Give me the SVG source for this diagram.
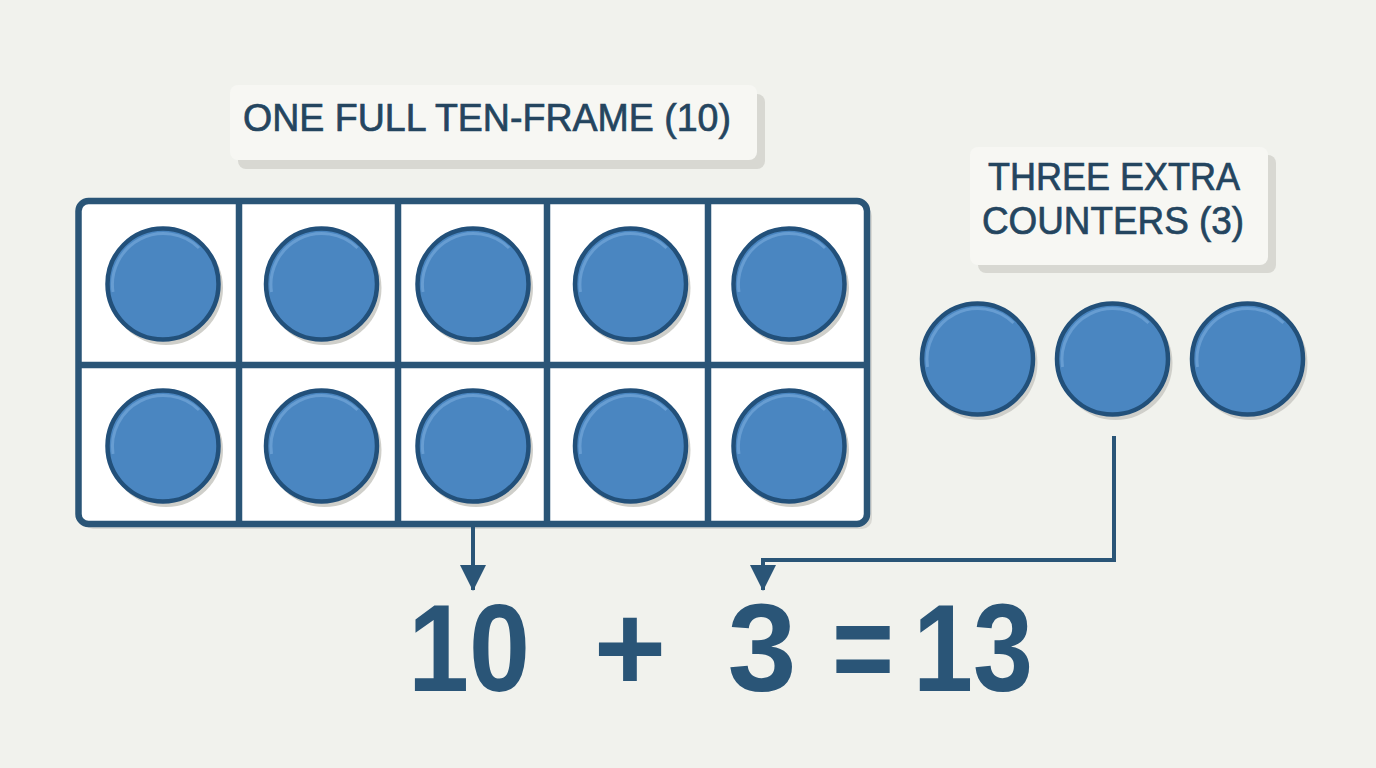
<svg xmlns="http://www.w3.org/2000/svg" xmlns:xlink="http://www.w3.org/1999/xlink" width="1376" height="768" viewBox="0 0 1376 768">
<defs>
<style>
.lbl{font-family:"Liberation Sans","Open Sans",sans-serif;font-size:38px;fill:#24455f;stroke:#24455f;stroke-width:0.7;text-anchor:middle}
.eq{font-family:"Liberation Sans",Arial,sans-serif;font-size:124px;font-weight:bold;fill:#2a5577;text-anchor:middle}
.box{fill:#f7f7f3}
.boxsh{fill:#d8d8d2}
.grid{stroke:#2a5577;stroke-width:6.5;fill:none}
.cell{stroke:#2a5577;stroke-width:6.5;fill:#ffffff}
.conn{stroke:#2a5577;stroke-width:4;fill:none}
</style>
<g id="counter">
<circle cx="3" cy="4" r="57" fill="#cfcfca"/>
<circle cx="0" cy="0" r="55.5" fill="#4a86c1" stroke="#22507a" stroke-width="4.5"/>
<path d="M -50,8 A 51 51 0 0 1 36,-36" fill="none" stroke="#6ea3d6" stroke-width="3" opacity="0.8"/>
</g>
<marker id="arr" viewBox="0 0 26 26" markerUnits="userSpaceOnUse" markerWidth="26" markerHeight="26" refX="25" refY="13" orient="auto">
<path d="M0,0 L26,13 L0,26 z" fill="#2a5577"/>
</marker>
</defs>
<rect width="1376" height="768" fill="#f1f2ed"/>

<g id="label-tenframe">
<rect class="boxsh" x="238" y="94" width="527" height="75" rx="8"/>
<rect class="box" x="230" y="85" width="527" height="75" rx="8"/>
<text class="lbl" x="487" y="131" textLength="488" lengthAdjust="spacingAndGlyphs">ONE FULL TEN-FRAME (10)</text>
</g>

<g id="label-extra">
<rect class="boxsh" x="978" y="155" width="298" height="118" rx="8"/>
<rect class="box" x="970" y="147" width="298" height="118" rx="8"/>
<text class="lbl" x="1114" y="190" textLength="252" lengthAdjust="spacingAndGlyphs">THREE EXTRA</text>
<text class="lbl" x="1113" y="234" textLength="262" lengthAdjust="spacingAndGlyphs">COUNTERS (3)</text>
</g>

<g id="ten-frame">
<rect x="83" y="206" width="789" height="323" rx="10" fill="#d9d9d4"/>
<rect class="cell" x="78.5" y="201" width="788.5" height="323" rx="10"/>
<path class="grid" d="M239,201 V524 M398,201 V524 M547,201 V524 M708,201 V524 M78.5,365 H867"/>
<use xlink:href="#counter" x="163" y="284"/>
<use xlink:href="#counter" x="321.5" y="284"/>
<use xlink:href="#counter" x="473" y="284"/>
<use xlink:href="#counter" x="630.5" y="284"/>
<use xlink:href="#counter" x="789" y="284"/>
<use xlink:href="#counter" x="163" y="446"/>
<use xlink:href="#counter" x="321.5" y="446"/>
<use xlink:href="#counter" x="473" y="446"/>
<use xlink:href="#counter" x="630.5" y="446"/>
<use xlink:href="#counter" x="789" y="446"/>
</g>

<g id="extra-counters">
<use xlink:href="#counter" x="977.5" y="359"/>
<use xlink:href="#counter" x="1112.5" y="359"/>
<use xlink:href="#counter" x="1247.5" y="359"/>
</g>

<g id="connectors">
<path class="conn" d="M473,527 V590" marker-end="url(#arr)"/>
<path class="conn" d="M1114,436 V560 H763 V590" marker-end="url(#arr)"/>
</g>

<g id="equation">
<text class="eq" x="469" y="691" textLength="122" lengthAdjust="spacingAndGlyphs">10</text>
<text class="eq" x="630" y="691">+</text>
<text class="eq" x="762" y="691">3</text>
<text class="eq" x="863" y="691" textLength="62" lengthAdjust="spacingAndGlyphs">=</text>
<text class="eq" x="973" y="691" textLength="120" lengthAdjust="spacingAndGlyphs">13</text>
</g>
</svg>
